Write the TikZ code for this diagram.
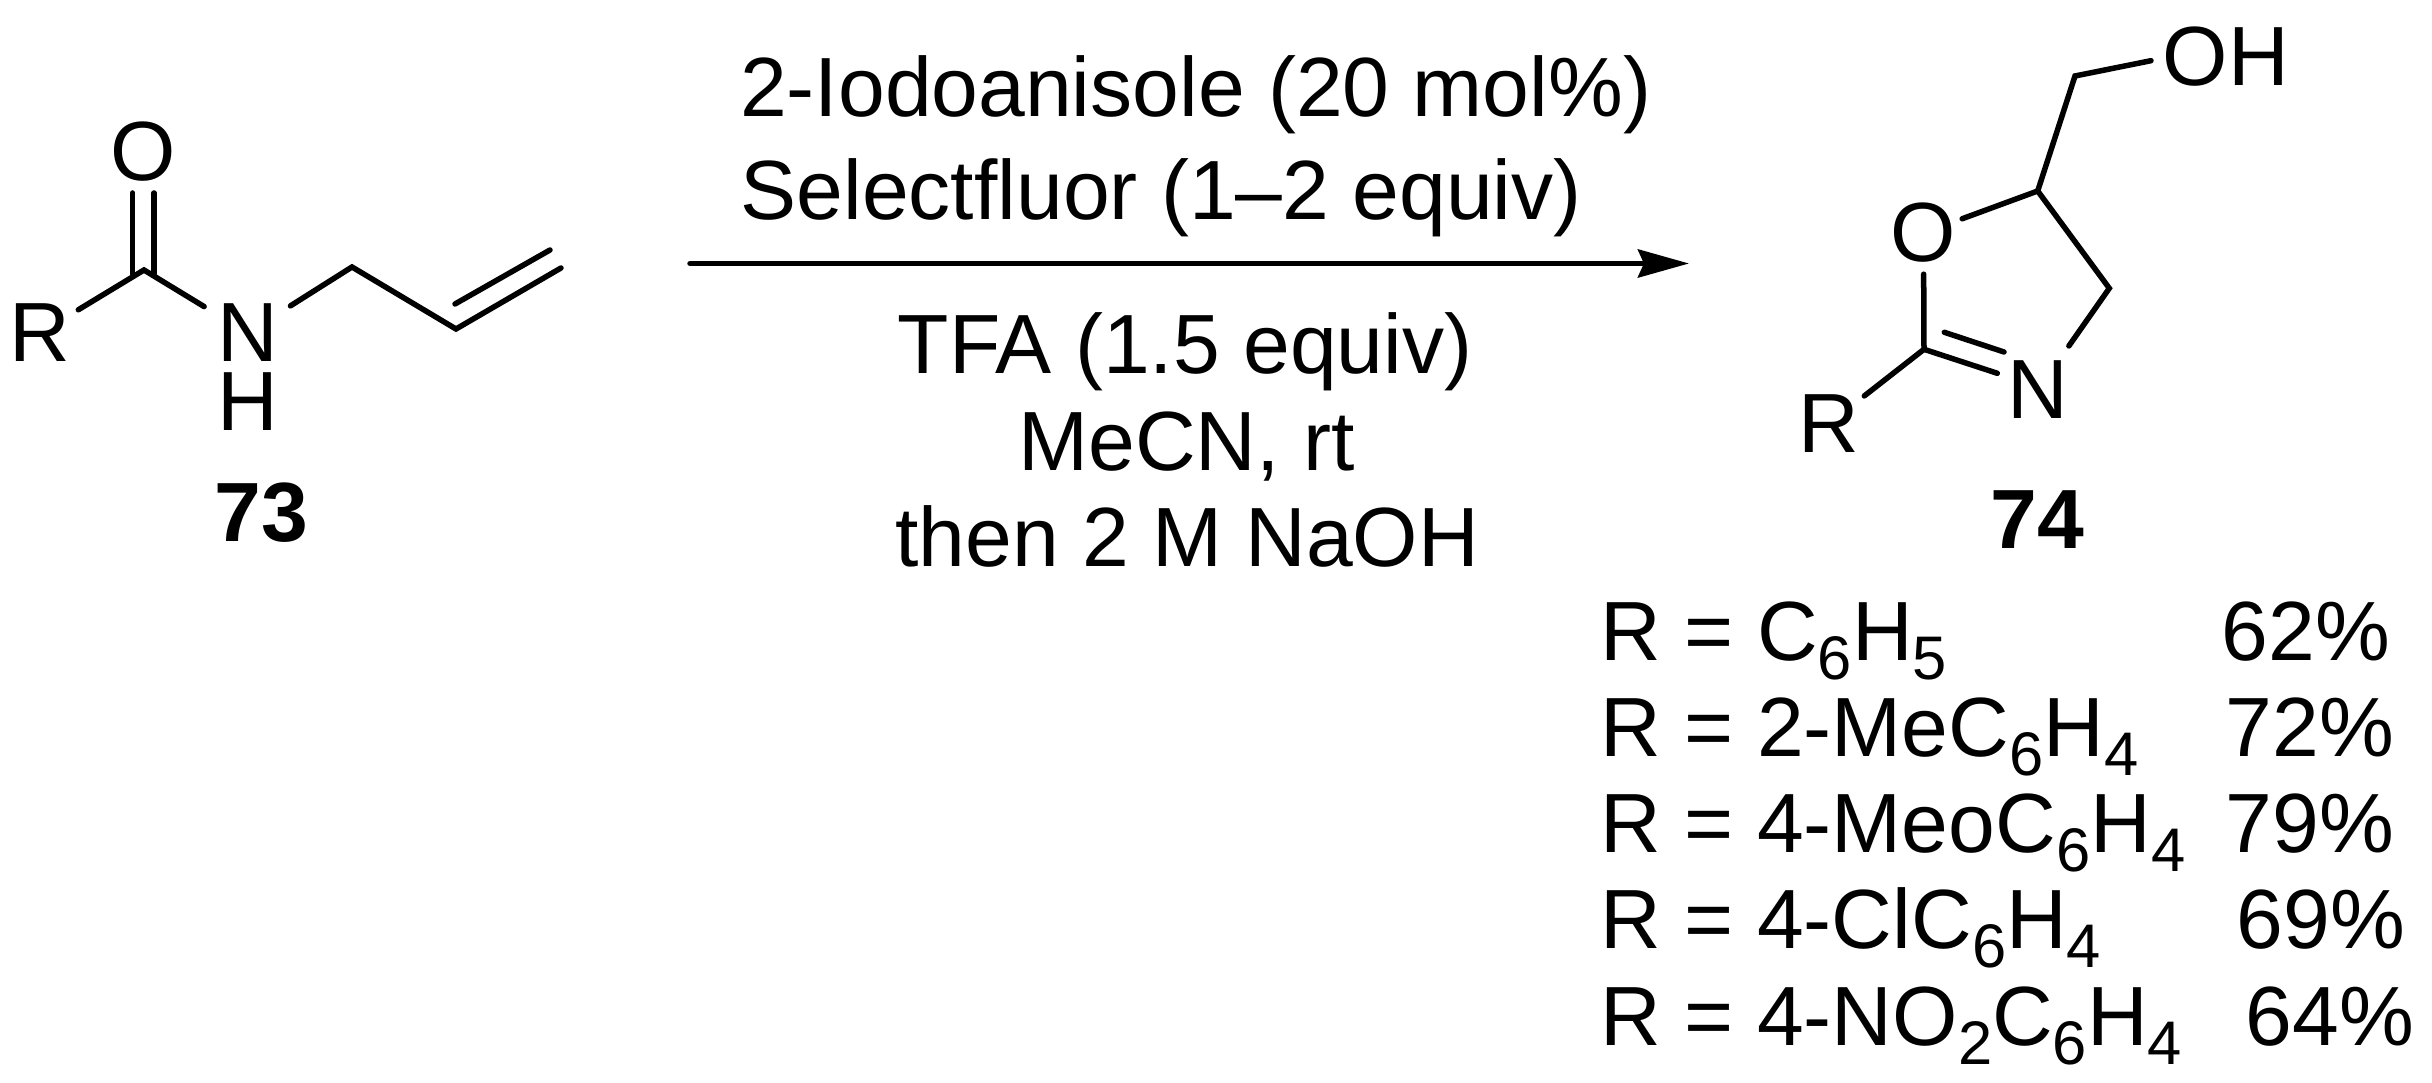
\documentclass[tikz,border=0pt]{standalone}
\usepackage{fontspec}
\setmainfont{Liberation Sans}
\usetikzlibrary{arrows.meta}
\newcommand{\subd}[1]{\raisebox{-0.18cm}{\fontsize{17.5}{20}\selectfont #1}}
\begin{document}
\begin{tikzpicture}[x=0.01cm,y=-0.01cm,
    line width=0.055cm,line cap=round,
    every node/.style={font=\fontsize{23.9}{28}\selectfont,inner sep=0},
    ratom/.style={circle,minimum size=0.84cm},
    natom/.style={circle,minimum size=0.96cm},
    oatom/.style={circle,inner sep=-0.04cm},
    txt/.style={anchor=base west},
    cpd/.style={anchor=base,font=\fontsize{23.9}{28}\selectfont\bfseries}]
  \useasboundingbox (0,0) rectangle (2432,1083);
  % left compound
  \node[ratom] (R1) at (40,333) {R};
  \node[oatom] (O1) at (143.5,152) {O};
  \node[natom] (N1) at (247.5,333) {N};
  \node (H1) at (247.5,402) {H};
  \coordinate (C1) at (144,270);
  \coordinate (C2) at (352,267);
  \coordinate (C3) at (456,329);
  \coordinate (C4) at (561,268);
  \coordinate (Ca) at (132.7,193);
  \coordinate (Cb) at (132.7,274);
  \coordinate (Cc) at (154,193);
  \coordinate (Cd) at (154,274);
  \coordinate (Ce) at (455,304);
  \coordinate (Cf) at (550,250);
  \draw (R1) -- (C1) -- (N1) -- (C2) -- (C3) -- (C4);
  \draw (Ca) -- (Cb);
  \draw (Cc) -- (Cd);
  \draw (Ce) -- (Cf);
  \node[cpd] (L73) at (261.5,542) {73};
  % arrow and conditions
  \coordinate (A1) at (690,263.5);
  \coordinate (A2) at (1689,263.5);
  \draw[-{Stealth[length=0.51cm,width=0.28cm,inset=0.06cm]}] (A1) -- (A2);
  \node[txt] (T1) at (737.5,117) {2-Iodoanisole (20 mol\%)};
  \node[txt] (T2) at (738,220) {Selectfluor (1–2 equiv)};
  \node[txt] (T3) at (895,374) {TFA (1.5 equiv)};
  \node[txt] (T4) at (1015.6,470.5) {MeCN, rt};
  \node[txt] (T5) at (892.5,566.5) {then 2 M NaOH};
  % right compound
  \node[oatom] (O2) at (1923.5,233) {O};
  \node[natom,minimum size=1.02cm] (N2) at (2038,390) {N};
  \node[ratom] (R2) at (1829,423.5) {R};
  \node[txt] (OH) at (2160,85.5) {OH};
  \coordinate (D1) at (1924,349.3);
  \coordinate (D2) at (2109.3,288.3);
  \coordinate (D3) at (2037.7,191);
  \coordinate (D4) at (2075,76);
  \coordinate (Da) at (1997.3,373.3);
  \coordinate (Db) at (1944.3,332.3);
  \coordinate (Dc) at (2004,352);
  \coordinate (Dd) at (2151,60.7);
  \draw (O2) -- (D1) -- (Da);
  \draw (R2) -- (D1);
  \draw (Db) -- (Dc);
  \draw (N2) -- (D2) -- (D3) -- (O2);
  \draw (D3) -- (D4) -- (Dd);
  \node[cpd] (L74) at (2037,549) {74};
  % yields
  \node[txt] (Y1) at (1598,661) {R = C\subd{6}H\subd{5}};
  \node[txt] (Y2) at (1598,757) {R = 2-MeC\subd{6}H\subd{4}};
  \node[txt] (Y3) at (1598,853) {R = 4-MeoC\subd{6}H\subd{4}};
  \node[txt] (Y4) at (1598,949) {R = 4-ClC\subd{6}H\subd{4}};
  \node[txt] (Y5) at (1598,1046) {R = 4-NO\subd{2}C\subd{6}H\subd{4}};
  \node[txt] (P1) at (2219,661) {62\%};
  \node[txt] (P2) at (2223,757) {72\%};
  \node[txt] (P3) at (2223,853) {79\%};
  \node[txt] (P4) at (2234,949) {69\%};
  \node[txt] (P5) at (2243,1046) {64\%};
\end{tikzpicture}
\end{document}
